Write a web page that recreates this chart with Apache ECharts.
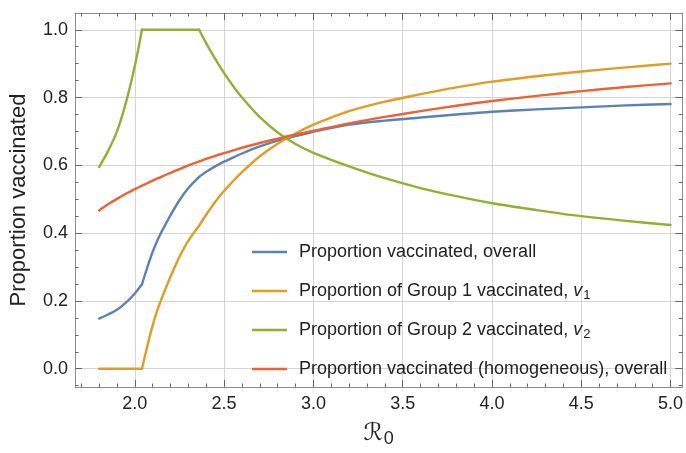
<!DOCTYPE html>
<html>
<head>
<meta charset="utf-8">
<title>Proportion vaccinated vs R0</title>
<script src="https://cdn.jsdelivr.net/npm/echarts@6/dist/echarts.min.js"></script>
<style>
  html, body { margin: 0; padding: 0; background: #fff; }
  #chartmain { width: 686px; height: 453px; }
</style>
</head>
<body>
<div id="chartmain"></div>
<script>
/* values */
var r0 = [1.8, 1.85, 1.9, 1.95, 2.0, 2.04,
          2.06, 2.08, 2.10, 2.12, 2.14, 2.16, 2.2, 2.25, 2.3, 2.36,
          2.4, 2.45, 2.5, 2.55, 2.6, 2.7, 2.8, 2.9, 3.0,
          3.2, 3.4, 3.6, 3.8, 4.0, 4.25, 4.5, 4.75, 5.0];

var overall = [0.148, 0.160, 0.174, 0.195, 0.222, 0.249,
               0.283, 0.315, 0.345, 0.371, 0.394, 0.414, 0.453, 0.497, 0.533, 0.566,
               0.581, 0.597, 0.611, 0.623, 0.635, 0.656, 0.673, 0.686, 0.699,
               0.720, 0.732, 0.741, 0.750, 0.758, 0.765, 0.771, 0.777, 0.781];

var group1 = [0, 0, 0, 0, 0, 0,
              0.045, 0.088, 0.128, 0.163, 0.193, 0.220, 0.272, 0.330, 0.378, 0.422,
              0.455, 0.492, 0.525, 0.553, 0.580, 0.627, 0.664, 0.694, 0.720,
              0.760, 0.788, 0.810, 0.830, 0.847, 0.863, 0.877, 0.889, 0.900];

var group2 = [0.595, 0.642, 0.700, 0.785, 0.893, 1.0,
              1.0, 1.0, 1.0, 1.0, 1.0, 1.0, 1.0, 1.0, 1.0, 1.0,
              0.960, 0.914, 0.872, 0.834, 0.800, 0.742, 0.697, 0.663, 0.637,
              0.597, 0.562, 0.533, 0.509, 0.488, 0.468, 0.450, 0.436, 0.424];

var homogeneous = [0.467, 0.485, 0.501, 0.516, 0.530, 0.540,
                   0.545, 0.550, 0.555, 0.560, 0.564, 0.569, 0.578, 0.589, 0.600, 0.612,
                   0.619, 0.628, 0.636, 0.644, 0.652, 0.666, 0.679, 0.691, 0.702,
                   0.724, 0.743, 0.760, 0.776, 0.790, 0.805, 0.819, 0.831, 0.842];

// R0 values where the optimal allocation switches regime (corners in the curves)
var kinkR0 = [2.04, 2.36];

var seriesNames = [
    'Proportion vaccinated, overall',
    'Proportion of Group 1 vaccinated, v1',
    'Proportion of Group 2 vaccinated, v2',
    'Proportion vaccinated (homogeneous), overall'
];

var xMajorTicks = [2.0, 2.5, 3.0, 3.5, 4.0, 4.5, 5.0];
var xMinorTicks = [1.7, 1.8, 1.9, 2.0, 2.1, 2.2, 2.3, 2.4, 2.5, 2.6, 2.7, 2.8, 2.9, 3.0, 3.1, 3.2, 3.3, 3.4,
                   3.5, 3.6, 3.7, 3.8, 3.9, 4.0, 4.1, 4.2, 4.3, 4.4, 4.5, 4.6, 4.7, 4.8, 4.9, 5.0];
var yMajorTicks = [0.0, 0.2, 0.4, 0.6, 0.8, 1.0];
var yMinorTicks = [-0.05, 0.0, 0.05, 0.1, 0.15, 0.2, 0.25, 0.3, 0.35, 0.4, 0.45, 0.5, 0.55, 0.6,
                   0.65, 0.7, 0.75, 0.8, 0.85, 0.9, 0.95, 1.0, 1.05];

var colors = ['#5E81B5', '#E19C24', '#8FB032', '#EB6235'];
var hasKinks = [true, true, true, false];
var font = "'Liberation Sans', Arial, sans-serif";
var frameColor = '#8c8c8c';
var tickColor = '#666';
var gridColor = '#d4d4d4';

var xMin = 1.665, xMax = 5.066;
var yMin = -0.054, yMax = 1.0495;

var pairs = function (xs, ys, from, to) {
    var out = [];
    for (var i = from; i <= to; i++) {
        out.push([xs[i], ys[i]]);
    }
    return out;
};

// one axis per tick size and side, all on the same grid
var makeAxis = function (dim, position, ticks, len, extra) {
    var ax = {
        type: 'value',
        position: position,
        min: dim === 'x' ? xMin : yMin,
        max: dim === 'x' ? xMax : yMax,
        axisLine: { show: false, onZero: false },
        axisTick: { show: true, inside: true, length: len, customValues: ticks,
                    lineStyle: { color: tickColor, width: 1 } },
        axisLabel: { show: false },
        splitLine: { show: false }
    };
    for (var k in extra) {
        ax[k] = extra[k];
    }
    return ax;
};

var labelStyle = {
    show: true,
    fontFamily: font,
    fontSize: 18,
    color: '#222',
    margin: 8,
    formatter: function (v) { return v.toFixed(1); }
};

var xAxes = [
    makeAxis('x', 'bottom', xMajorTicks, 7, {
        axisLine: { show: true, onZero: false, lineStyle: { color: frameColor, width: 1 } },
        axisLabel: Object.assign({}, labelStyle, { customValues: xMajorTicks }),
        splitLine: { show: true, customValues: xMajorTicks, lineStyle: { color: gridColor, width: 1 } },
        name: '{r|ℛ}{s|0}',
        nameLocation: 'middle',
        nameGap: 32,
        nameTextStyle: {
            rich: {
                r: { fontFamily: 'DejaVu Sans', fontSize: 24, color: '#222', lineHeight: 30 },
                s: { fontFamily: font, fontSize: 18, color: '#222', lineHeight: 30, padding: [10, 0, 0, 1] }
            }
        }
    }),
    makeAxis('x', 'bottom', xMinorTicks, 3.5, {}),
    makeAxis('x', 'top', xMajorTicks, 7, {
        axisLine: { show: true, onZero: false, lineStyle: { color: frameColor, width: 1 } }
    }),
    makeAxis('x', 'top', xMinorTicks, 3.5, {})
];

var yAxes = [
    makeAxis('y', 'left', yMajorTicks, 7, {
        axisLine: { show: true, onZero: false, lineStyle: { color: frameColor, width: 1 } },
        axisLabel: Object.assign({}, labelStyle, { customValues: yMajorTicks, margin: 7 }),
        splitLine: { show: true, customValues: yMajorTicks, lineStyle: { color: gridColor, width: 1 } },
        name: 'Proportion vaccinated',
        nameLocation: 'middle',
        nameGap: 45,
        nameTextStyle: { fontFamily: font, fontSize: 22, color: '#222' }
    }),
    makeAxis('y', 'left', yMinorTicks, 3.5, {}),
    makeAxis('y', 'right', yMajorTicks, 7, {
        axisLine: { show: true, onZero: false, lineStyle: { color: frameColor, width: 1 } }
    }),
    makeAxis('y', 'right', yMinorTicks, 3.5, {})
];

// each curve is smoothed piece by piece so the corners stay sharp
var breaks = [0];
for (var b = 0; b < kinkR0.length; b++) {
    breaks.push(r0.indexOf(kinkR0[b]));
}
breaks.push(r0.length - 1);

var valueSets = [overall, group1, group2, homogeneous];
var series = [];
for (var i = 0; i < valueSets.length; i++) {
    var cuts = hasKinks[i] ? breaks : [0, r0.length - 1];
    for (var j = 0; j < cuts.length - 1; j++) {
        series.push({
            name: seriesNames[i],
            type: 'line',
            xAxisIndex: 0,
            yAxisIndex: 0,
            data: pairs(r0, valueSets[i], cuts[j], cuts[j + 1]),
            symbol: 'none',
            showSymbol: false,
            smooth: 0.3,
            lineStyle: { color: colors[i], width: 2.4, cap: 'round', join: 'round' },
            itemStyle: { color: colors[i] },
            z: 3 + i
        });
    }
}

var legendText = {
    'Proportion of Group 1 vaccinated, v1': 'Proportion of Group 1 vaccinated, {i|v}{s|1}',
    'Proportion of Group 2 vaccinated, v2': 'Proportion of Group 2 vaccinated, {i|v}{s|2}'
};

var option = {
    animation: false,
    backgroundColor: '#fff',
    color: colors,
    grid: { left: 70, right: -1, top: 13, bottom: 61, containLabel: false },
    xAxis: xAxes,
    yAxis: yAxes,
    legend: {
        orient: 'vertical',
        left: 252,
        top: 241,
        padding: 0,
        itemGap: 17,
        itemWidth: 35,
        itemHeight: 2.5,
        icon: 'rect',
        data: seriesNames,
        formatter: function (name) {
            return legendText[name] || name;
        },
        textStyle: {
            fontFamily: font,
            fontSize: 18,
            color: '#222',
            lineHeight: 22,
            padding: [0, 0, 0, 7],
            rich: {
                i: { fontFamily: font, fontSize: 18, fontStyle: 'italic', color: '#222', lineHeight: 22 },
                s: { fontFamily: font, fontSize: 13, color: '#222', lineHeight: 22, padding: [9, 0, 0, 1] }
            }
        }
    },
    series: series
};

var chart = echarts.init(document.getElementById('chartmain'), null, { renderer: 'canvas' });
chart.setOption(option);
</script>
</body>
</html>
